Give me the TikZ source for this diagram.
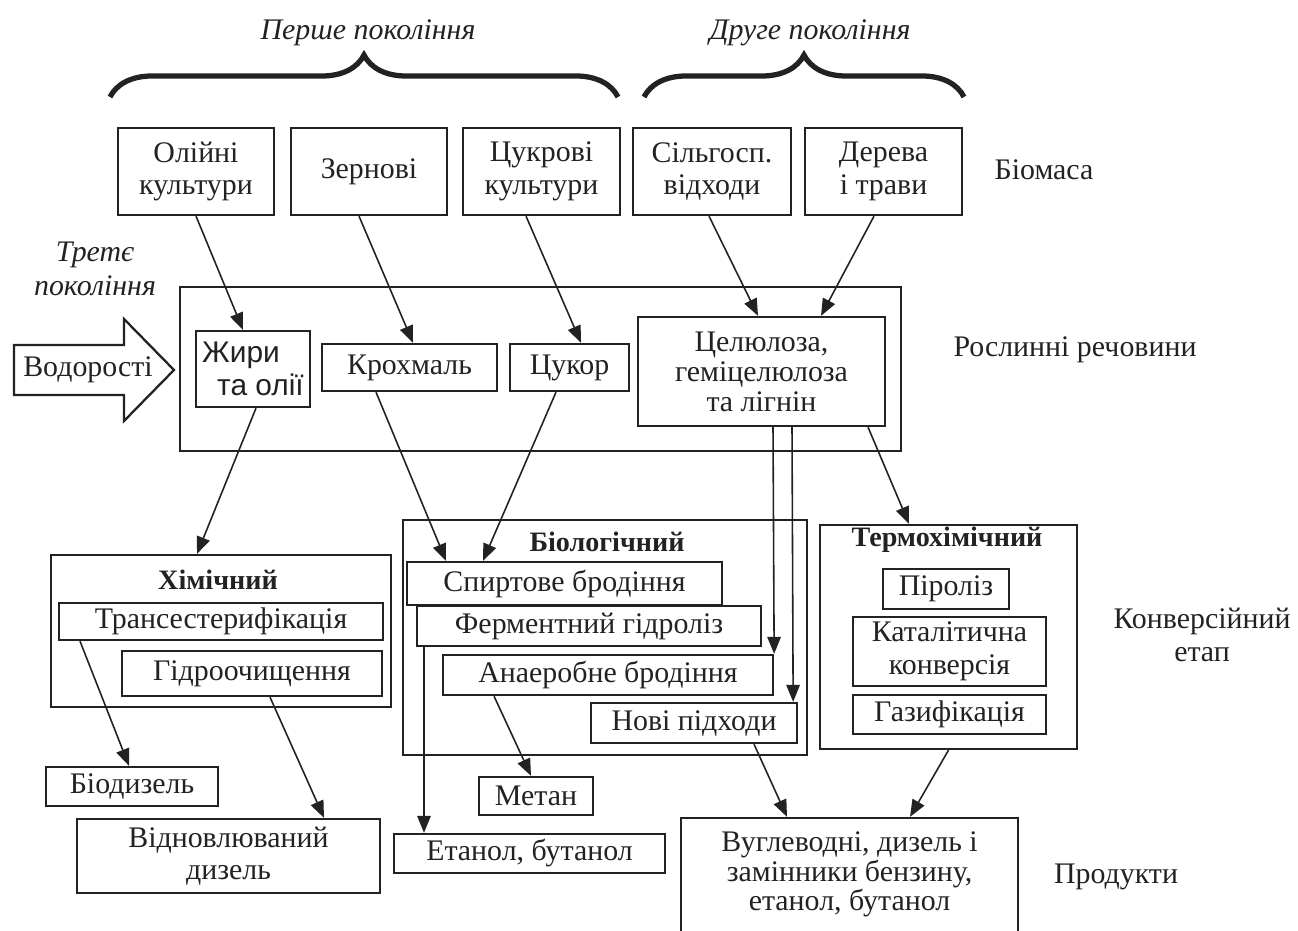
\documentclass[tikz,border=0pt]{standalone}
\usepackage{fontspec}
\setmainfont{Liberation Serif}
\newfontfamily\sansfont{Liberation Sans}
\usetikzlibrary{arrows.meta,decorations.pathreplacing}
\definecolor{ink}{HTML}{222222}
\begin{document}
\begin{tikzpicture}[x=0.2mm, y=-0.2mm,
    every node/.style={text=ink, font=\fontsize{17}{18.5}\selectfont},
    box/.style ={draw=ink, line width=1.3pt, rectangle, inner sep=0pt, align=center},
    title/.style ={font=\fontsize{16}{18}\selectfont\bfseries},
    gen/.style ={font=\fontsize{17}{19}\selectfont\itshape, align=center},
    arrow/.style ={draw=ink, line width=0.9pt, -{Triangle[length=3.4mm,width=2.7mm]}},
    curly/.style ={draw=ink, line width=3pt, decorate, decoration={brace, amplitude=8.4mm}}]
   \useasboundingbox (0,0) rectangle (1298,931);

   \draw[curly] (110,97) -- (618,97);
   \draw[curly] (644,97) -- (964,97);
   \node[gen] (gen1) at (368,33) {Перше покоління};
   \node[gen] (gen2) at (810,33) {Друге покоління};
   \node[gen] (gen3) at (95,269) {Третє\\покоління};

   \node[box, minimum width=31.2mm, minimum height=17.4mm] (oilcrop) at (196,171.5) {Олійні\\культури};
   \node[box, minimum width=31.2mm, minimum height=17.4mm] (grain) at (369,171.5) {Зернові};
   \node[box, minimum width=31.4mm, minimum height=17.4mm] (sugarcrop) at (541.5,171.5) {Цукрові\\культури};
   \node[box, minimum width=31.6mm, minimum height=17.4mm] (agrowaste) at (712,171.5) {Сільгосп.\\відходи};
   \node[box, minimum width=31.4mm, minimum height=17.4mm] (trees) at (883.5,171.5) {Дерева\\і трави};
   \node (biomass) at (1044,170) {Біомаса};

   \node[box, minimum width=144.2mm, minimum height=32.8mm] (plants) at (540.5,369) {};
   \node[box, minimum width=22.8mm, minimum height=15.2mm, align=left, font=\fontsize{17}{19}\selectfont\sansfont] (fats) at (253,369) {Жири\\\hspace*{0.5em}та олії};
   \node[box, minimum width=35mm, minimum height=9.4mm] (starch) at (409.5,367.5) {Крохмаль};
   \node[box, minimum width=23.8mm, minimum height=9.4mm] (sugar) at (569.5,367.5) {Цукор};
   \node[box, minimum width=49.4mm, minimum height=21.8mm, font=\fontsize{17}{17}\selectfont] (cellulose) at (761.5,371.5) {Целюлоза,\\геміцелюлоза\\та лігнін};
   \node (plantlbl) at (1075,350) {Рослинні речовини};

   \draw[draw=ink, line width=1.3pt] (14,345) -- (124,345) -- (124,319) -- (174,370)
      -- (124,421) -- (124,395) -- (14,395) -- cycle;
   \node (algae) at (88,370) {Водорості};

   \node[box, minimum width=68mm, minimum height=30.4mm] (chem) at (221,631) {};
   \node[title] (chemtitle) at (218,580) {Хімічний};
   \node[box, minimum width=64.8mm, minimum height=7.4mm] (transest) at (221,621.5) {Трансестерифікація};
   \node[box, minimum width=52mm, minimum height=9mm] (hydro) at (252,673.5) {Гідроочищення};
   \node[box, minimum width=34.4mm, minimum height=7.8mm] (biodiesel) at (132,786.5) {Біодизель};
   \node[box, minimum width=60.6mm, minimum height=14.8mm] (rdiesel) at (228.5,856) {Відновлюваний\\дизель};

   \node[box, minimum width=80.8mm, minimum height=47mm] (bio) at (605,637.5) {};
   \node[title] (biotitle) at (607,542) {Біологічний};
   \node[box, minimum width=63mm, minimum height=8.6mm] (alcohol) at (564.5,583.5) {Спиртове бродіння};
   \node[box, minimum width=68.8mm, minimum height=8mm] (enzyme) at (589,626) {Ферментний гідроліз};
   \node[box, minimum width=66mm, minimum height=8mm] (anaerobic) at (608,675) {Анаеробне бродіння};
   \node[box, minimum width=41.2mm, minimum height=8mm] (newapp) at (694,723) {Нові підходи};
   \node[box, minimum width=22.8mm, minimum height=7.6mm] (methane) at (536,796) {Метан};
   \node[box, minimum width=54.2mm, minimum height=7.8mm] (ethanol) at (529.5,853.5) {Етанол, бутанол};

   \node[box, minimum width=51.4mm, minimum height=44.8mm] (thermo) at (948.5,637) {};
   \node[title] (thermotitle) at (947,540) {Термохімічний};
   \node[box, minimum width=25.2mm, minimum height=8mm] (pyro) at (946,589) {Піроліз};
   \node[box, minimum width=38.6mm, minimum height=13.8mm] (catal) at (949.5,651.5) {Каталітична\\конверсія};
   \node[box, minimum width=38.6mm, minimum height=7.8mm] (gasif) at (949.5,714.5) {Газифікація};
   \node[align=center] (convlbl) at (1202,635) {Конверсійний\\етап};

   \node[box, minimum width=67.4mm, minimum height=24.8mm, font=\fontsize{17}{17}\selectfont] (fuels) at (849.5,880) {Вуглеводні, дизель і\\замінники бензину,\\етанол, бутанол\\[-7pt]};
   \node (productlbl) at (1116,877) {Продукти};

   \draw[arrow] (oilcrop.south) to ([xshift=-2mm]fats.north);
   \draw[arrow] ([xshift=-2mm]grain.south) to ([xshift=0.7mm]starch.north);
   \draw[arrow] ([xshift=-3.1mm]sugarcrop.south) to ([xshift=2.3mm]sugar.north);
   \draw[arrow] ([xshift=-0.6mm]agrowaste.south) to ([xshift=-0.7mm]cellulose.north);
   \draw[arrow] ([xshift=-1.9mm]trees.south) to ([xshift=11.9mm]cellulose.north);
   \draw[arrow] ([xshift=0.6mm]fats.south) to ([xshift=-4.8mm]chem.north);
   \draw[arrow] ([xshift=-6.7mm]starch.south) to ([xshift=-23.7mm]alcohol.north);
   \draw[arrow] ([xshift=-2.7mm]sugar.south) to ([xshift=-16.3mm]alcohol.north);
   \draw[arrow] ([xshift=2.3mm]cellulose.south) to (anaerobic.north east);
   \draw[arrow] ([xshift=6.1mm]cellulose.south) to ([xshift=-1mm]newapp.north east);
   \draw[arrow] ([xshift=21.3mm]cellulose.south) to ([xshift=-7.9mm]thermo.north);
   \draw[arrow] ([xshift=-28.2mm]transest.south) to ([xshift=-0.6mm]biodiesel.north);
   \draw[arrow] ([xshift=3.6mm]hydro.south) to ([xshift=19.1mm]rdiesel.north);
   \draw[arrow] ([xshift=-33mm]enzyme.south) to ([xshift=-21.1mm]ethanol.north);
   \draw[arrow] ([xshift=-22.8mm]anaerobic.south) to ([xshift=-1mm]methane.north);
   \draw[arrow] ([xshift=12mm]newapp.south) to ([xshift=-12.5mm]fuels.north);
   \draw[arrow] (thermo.south) to ([xshift=12.1mm]fuels.north);
 \end{tikzpicture}
\end{document}
